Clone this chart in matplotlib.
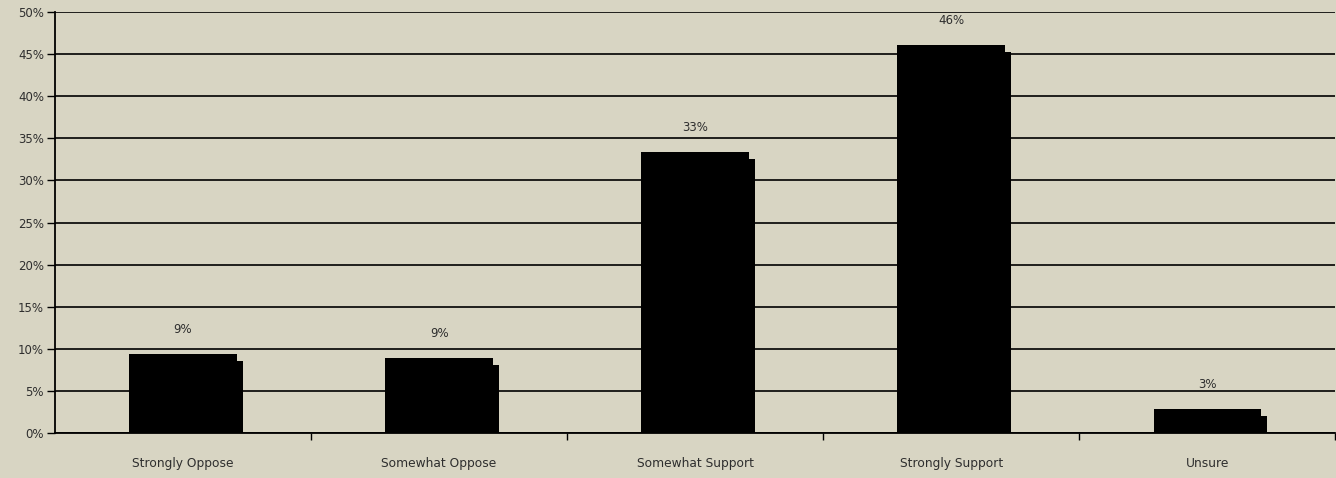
import numpy as np
import matplotlib.pyplot as plt
from matplotlib.ticker import FixedLocator, PercentFormatter

categories = ['Strongly Oppose', 'Somewhat Oppose', 'Somewhat Support', 'Strongly Support', 'Unsure']
shares = [9.4, 8.9, 33.4, 46.1, 2.9]   # percent of respondents
y_ticks = list(range(0, 55, 5))

BG = '#d8d5c3'
TEXT = '#2e2e2e'

fig = plt.figure(figsize=(13.36, 4.78), dpi=100, facecolor=BG)
ax = fig.add_axes([55 / 1336, 45 / 478, 1 - 55 / 1336 - 0.0005, 421 / 478])
ax.set_facecolor(BG)

x = np.arange(len(categories))
width = 0.42
# small offset block behind each bar gives the stepped corner
ax.bar(x + 0.024, np.array(shares) - 0.85, width=width, color='black', zorder=2)
ax.bar(x, shares, width=width, color='black', zorder=3)

for xi, v in zip(x, shares):
    ax.annotate(f'{v:.0f}%', (xi, v), xytext=(0, 13), textcoords='offset points',
                ha='center', va='bottom', fontsize=8.5, color=TEXT)

ax.set_xlim(-0.5, len(categories) - 0.5)
ax.set_ylim(0, 50)
ax.set_yticks(y_ticks)
ax.yaxis.set_major_formatter(PercentFormatter(decimals=0))
ax.yaxis.grid(True, color='black', linewidth=1.2, zorder=1)
ax.set_axisbelow(True)

ax.set_xticks(x)
ax.set_xticklabels(categories)
ax.tick_params(axis='x', which='major', length=0, pad=17, labelsize=8.8, labelcolor=TEXT)
ax.xaxis.set_minor_locator(FixedLocator(np.arange(0.5, len(categories), 1.0)))
ax.tick_params(axis='x', which='minor', length=5, width=1, color='black', direction='out')
ax.tick_params(axis='y', length=6, width=1, color='black', labelsize=8.5, labelcolor=TEXT, pad=2)

for side in ['top', 'right']:
    ax.spines[side].set_visible(False)
ax.spines['left'].set_linewidth(1.3)
ax.spines['bottom'].set_linewidth(1.3)

fig.savefig('out.png', dpi=100, facecolor=BG)
